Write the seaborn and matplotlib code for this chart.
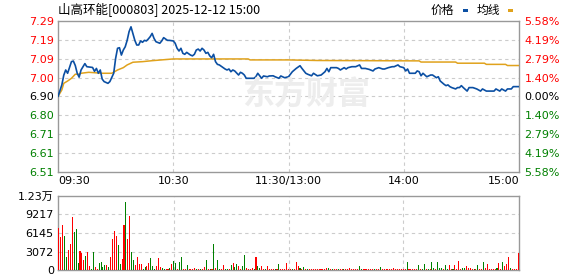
import numpy as np
import pandas as pd
import matplotlib
matplotlib.use("Agg")
import matplotlib.pyplot as plt
import seaborn as sns
from matplotlib.patches import Rectangle

sns.set_theme(style="white")
plt.rcParams["font.family"] = ["DejaVu Sans", "Noto Sans CJK SC"]

# ---------------- data ----------------
title = "山高环能[000803] 2025-12-12 15:00"
legend_names = ["价格", "均线"]
watermark = "东方财富"
pre_close = 6.90
price_tick_vals = [6.51, 6.6075, 6.705, 6.8025, 6.90, 6.9975, 7.095, 7.1925, 7.29]
price_tick_labels = ["6.51", "6.61", "6.71", "6.80", "6.90", "7.00", "7.09", "7.19", "7.29"]
pct_tick_labels = ["5.58%", "4.19%", "2.79%", "1.40%", "0.00%", "1.40%", "2.79%", "4.19%", "5.58%"]
time_ticks = [0, 60, 120, 180, 240]
time_labels = ["09:30", "10:30", "11:30/13:00", "14:00", "15:00"]
vol_tick_vals = [0, 3072, 6145, 9217, 12289]
vol_tick_labels = ["0", "3072", "6145", "9217", "1.23万"]

price_t = [0, 2, 3, 4, 5, 7, 8, 9, 10, 11, 12, 13, 14, 15, 18, 19, 20, 21, 22, 23,
           24, 26, 27, 29, 30, 31, 32, 33, 34, 35, 36, 37, 38, 39, 40, 41, 42, 43, 44, 45,
           46, 47, 48, 49, 50, 51, 53, 54, 55, 57, 58, 60, 61, 62, 63, 64, 65, 66, 67, 69,
           70, 71, 72, 73, 74, 75, 76, 77, 78, 79, 80, 81, 82, 83, 84, 86, 87, 88, 89, 90,
           91, 92, 94, 95, 96, 97, 98, 100, 102, 103, 104, 105, 106, 107, 109, 110, 112, 113, 115, 116,
           118, 120, 122, 124, 126, 127, 129, 130, 132, 133, 135, 137, 139, 140, 141, 142, 143, 145, 146, 147,
           149, 150, 151, 153, 155, 157, 158, 160, 162, 164, 165, 167, 169, 170, 172, 174, 175, 177, 178, 180,
           181, 182, 183, 186, 187, 188, 189, 190, 192, 194, 195, 197, 198, 199, 201, 202, 203, 204, 205, 207,
           208, 209, 210, 211, 213, 214, 216, 218, 220, 221, 223, 225, 227, 228, 230, 231, 233, 234, 236, 237,
           240]
price_v = [6.900, 6.960, 7.010, 7.037, 7.020, 7.080, 7.083, 7.060, 7.020, 7.000, 7.037, 7.054, 7.070, 7.054, 7.050, 7.030, 7.045, 7.020, 7.037, 6.990,
           6.977, 6.968, 6.977, 7.020, 7.097, 7.149, 7.152, 7.114, 7.140, 7.157, 7.190, 7.235, 7.260, 7.226, 7.190, 7.166, 7.166, 7.187, 7.180, 7.190,
           7.187, 7.197, 7.209, 7.226, 7.200, 7.183, 7.175, 7.187, 7.204, 7.190, 7.190, 7.187, 7.175, 7.149, 7.135, 7.149, 7.123, 7.118, 7.128, 7.114,
           7.110, 7.118, 7.140, 7.145, 7.135, 7.149, 7.140, 7.123, 7.128, 7.110, 7.100, 7.118, 7.080, 7.066, 7.063, 7.049, 7.042, 7.037, 7.042, 7.028,
           7.037, 7.032, 7.011, 7.025, 7.020, 7.011, 6.994, 6.994, 6.994, 7.002, 7.020, 7.007, 6.994, 7.006, 7.002, 7.006, 7.007, 7.002, 6.994, 7.006,
           6.997, 7.002, 7.028, 7.045, 7.059, 7.045, 7.020, 7.015, 7.007, 7.020, 7.007, 7.011, 7.028, 7.045, 7.028, 7.049, 7.049, 7.049, 7.045, 7.037,
           7.049, 7.042, 7.049, 7.054, 7.054, 7.063, 7.045, 7.045, 7.040, 7.032, 7.042, 7.049, 7.042, 7.042, 7.049, 7.054, 7.054, 7.063, 7.054, 7.049,
           7.032, 7.042, 7.020, 7.020, 7.032, 7.028, 7.007, 7.020, 7.002, 7.011, 7.011, 6.997, 7.002, 6.980, 6.963, 6.956, 6.960, 6.951, 6.946, 6.939,
           6.946, 6.946, 6.956, 6.946, 6.928, 6.946, 6.946, 6.939, 6.928, 6.939, 6.928, 6.928, 6.928, 6.939, 6.928, 6.939, 6.928, 6.939, 6.939, 6.951,
           6.951]

avg_t = [0, 2, 3, 5, 7, 9, 11, 12, 16, 23, 28, 31, 34, 36, 39, 44, 49, 60, 99, 100,
         120, 135, 188, 189, 207, 208, 222, 223, 233, 234, 240]
avg_v = [6.900, 6.934, 6.968, 6.980, 6.994, 7.015, 7.015, 7.020, 7.025, 7.020, 7.020, 7.037, 7.049, 7.063, 7.077, 7.080, 7.085, 7.094, 7.094, 7.089,
         7.089, 7.086, 7.084, 7.078, 7.078, 7.072, 7.072, 7.066, 7.066, 7.060, 7.060]

volume = [7030, 5480, 7470, 5640, 2210, 3320, 4320, 8850, 6360, 6800,
          1210, 3150, 2880, 1660, 2380, 3040, 660, 220, 3040, 500,
          200, 1160, 1380, 500, 830, 830, 500, 2210, 5150, 6470,
          5700, 4150, 1000, 1830, 7470, 11290, 5150, 8960, 3040, 1660,
          830, 2160, 1000, 1000, 200, 500, 730, 1080, 1990, 730,
          170, 660, 1990, 500, 400, 170, 170, 170, 400, 1000,
          1490, 1210, 170, 1270, 2160, 170, 170, 830, 170, 170,
          170, 330, 170, 170, 170, 170, 500, 1660, 170, 170,
          170, 4320, 330, 1660, 170, 170, 830, 170, 170, 170,
          830, 1160, 500, 1000, 660, 170, 660, 2490, 330, 170,
          170, 330, 170, 2160, 660, 330, 660, 170, 170, 660,
          170, 170, 170, 170, 170, 1000, 170, 170, 170, 1160,
          170, 170, 170, 170, 1330, 720, 330, 170, 500, 170,
          170, 170, 170, 170, 170, 170, 170, 170, 170, 170,
          330, 330, 170, 170, 170, 170, 170, 170, 170, 170,
          170, 170, 330, 170, 170, 170, 170, 660, 170, 170,
          170, 170, 170, 170, 170, 170, 170, 170, 500, 170,
          170, 170, 170, 170, 170, 330, 170, 170, 170, 170,
          170, 170, 1330, 170, 170, 170, 170, 170, 830, 170,
          170, 1000, 170, 170, 170, 1330, 330, 170, 1330, 330,
          330, 170, 830, 170, 830, 170, 170, 830, 170, 1490,
          170, 330, 330, 660, 330, 330, 170, 170, 170, 830,
          170, 170, 1330, 330, 1000, 170, 170, 170, 170, 330,
          1160, 170, 1330, 660, 1000, 2160, 330, 170, 170, 170, 2820]
vol_dir = ("rrrggrrrgg" "grrrgrrggr" "rggggrgrrr" "rggrrgrrgg" "rrrrggrrgg"
           "grrrggrrgr" "ggrggrrgrr" "rrgrgrrgrg" "rgrggrrggr" "grggrrggrr"
           "rrgrggrrgr" "rrrgrgrrrr" "rrgrrrgrgr" "grrrrrrrrr" "rgrgrrgrrg"
           "rrrrrrrggr" "rrrrrgrrgr" "rrrrrrrrrr" "rrgrrrrrgr" "ggrgrggrgg"
           "grggrrgrrr" "rggrrrrgrg" "rrgrrrrrrg" "rrgrrrgrrrr")

# ---------------- style ----------------
W, H = 578, 276
RED, GREEN, DARK = "#ff0000", "#008000", "#000000"
BLUE, GOLD = "#0b4fa3", "#e0a21c"
SPINE, GRID = "#999999", "#cccccc"

fig = plt.figure(figsize=(W / 100, H / 100), dpi=100)
fig.patch.set_facecolor("white")

def fx(px):
    return px / W

def fy(py):
    return 1 - py / H

ax = fig.add_axes([fx(58), fy(172), fx(519) - fx(58), fy(21) - fy(172)])
axv = fig.add_axes([fx(58), fy(270), fx(519) - fx(58), fy(196) - fy(270)])

# watermark
fig.text(fx(306), fy(96), watermark, fontsize=23, fontweight="bold", color="#ededed",
         ha="center", va="center", family=["Noto Sans CJK SC"], zorder=0)
ax.patch.set_alpha(0)

# price + average lines
df_p = pd.DataFrame({"t": price_t, "p": price_v})
df_a = pd.DataFrame({"t": avg_t, "p": avg_v})
sns.lineplot(data=df_a, x="t", y="p", ax=ax, color=GOLD, lw=1.1, zorder=3)
sns.lineplot(data=df_p, x="t", y="p", ax=ax, color=BLUE, lw=1.2, zorder=4)

ax.set_xlim(0, 240)
ax.set_ylim(price_tick_vals[0], price_tick_vals[-1])
ax.set_yticks(price_tick_vals)
ax.set_yticklabels(price_tick_labels)
ax.set_xticks(time_ticks)
ax.set_xticklabels(time_labels)
ax.set_xlabel("")
ax.set_ylabel("")

def label_colors(n, mid):
    return [GREEN if i < mid else (DARK if i == mid else RED) for i in range(n)]

cols = label_colors(len(price_tick_vals), 4)
for lab, c in zip(ax.get_yticklabels(), cols):
    lab.set_color(c)
ax.tick_params(axis="y", length=0, pad=3, labelsize=8)
ax.tick_params(axis="x", length=0, pad=3, labelsize=8, labelcolor="#000000")
xl = ax.get_xticklabels()
xl[0].set_ha("left")
xl[-1].set_ha("right")

ax2 = ax.twinx()
ax2.set_ylim(price_tick_vals[0], price_tick_vals[-1])
ax2.set_yticks(price_tick_vals)
ax2.set_yticklabels(pct_tick_labels[::-1])
for lab, c in zip(ax2.get_yticklabels(), cols):
    lab.set_color(c)
ax2.tick_params(axis="y", length=0, pad=4, labelsize=8)
for s in ax2.spines.values():
    s.set_visible(False)

for a in (ax, axv):
    for s in a.spines.values():
        s.set_color(SPINE)
        s.set_linewidth(1.0)

for v in price_tick_vals[1:-1]:
    ax.axhline(v, color=GRID, lw=0.8, ls=(0, (3, 3)), zorder=1)
for t in time_ticks[1:-1]:
    ax.axvline(t, color=GRID, lw=0.8, ls=(0, (3, 3)), zorder=1)

# volume bars (categorical positions 0..240 == minutes)
minutes = list(range(len(volume)))
df_v = pd.DataFrame({"t": minutes, "v": volume, "d": list(vol_dir)})
sns.barplot(data=df_v, x="t", y="v", hue="d", order=minutes,
            palette={"r": RED, "g": GREEN}, hue_order=["r", "g"],
            dodge=False, width=0.55, saturation=1, errorbar=None,
            legend=False, ax=axv, linewidth=0)
for p in axv.patches:
    p.set_zorder(3)
    p.set_antialiased(False)
axv.set_xlim(-0.5, 240.5)
axv.set_ylim(0, vol_tick_vals[-1])
axv.set_yticks(vol_tick_vals)
axv.set_yticklabels(vol_tick_labels)
axv.set_xticks([])
axv.set_xlabel("")
axv.set_ylabel("")
axv.tick_params(axis="y", length=0, pad=3, labelsize=8, labelcolor="#000000")
for v in vol_tick_vals[1:-1]:
    axv.axhline(v, color=GRID, lw=0.8, ls=(0, (3, 3)), zorder=1)
for t in time_ticks[1:-1]:
    axv.axvline(t, color=GRID, lw=0.8, ls=(0, (3, 3)), zorder=1)

# title and legend
fig.text(fx(58), fy(10), title, fontsize=9, ha="left", va="center",
         family=["Noto Sans CJK SC", "DejaVu Sans"], color="#000000")
fig.text(fx(431), fy(10), legend_names[0], fontsize=8.5, ha="left", va="center",
         family=["Noto Sans CJK SC"], color="#000000")
fig.add_artist(Rectangle((fx(463), fy(12)), fx(5), 3 / H, transform=fig.transFigure,
                         color=BLUE, lw=0))
fig.text(fx(477), fy(10), legend_names[1], fontsize=8.5, ha="left", va="center",
         family=["Noto Sans CJK SC"], color="#000000")
fig.add_artist(Rectangle((fx(508), fy(12)), fx(5), 3 / H, transform=fig.transFigure,
                         color=GOLD, lw=0))

fig.savefig("out.png", dpi=100)
